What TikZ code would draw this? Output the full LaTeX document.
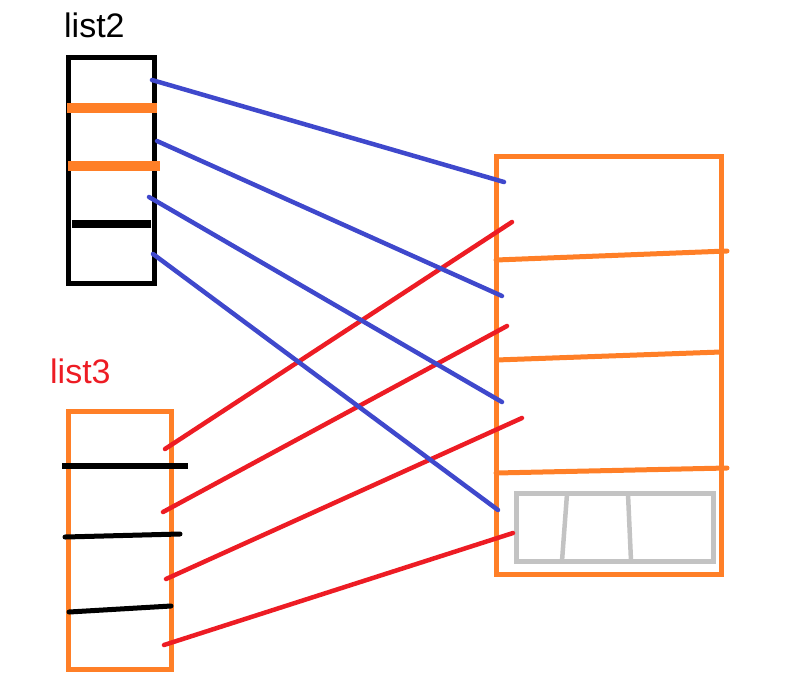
\documentclass[tikz,border=0pt]{standalone}
\usepackage{fontspec}
\setmainfont{Liberation Sans}
\usetikzlibrary{calc, positioning}
\definecolor{paintorange}{RGB}{255,127,39}
\definecolor{paintblue}{RGB}{63,72,204}
\definecolor{paintred}{RGB}{237,28,36}
\definecolor{paintgray}{RGB}{195,195,195}

\tikzset{
  boxline/.style={line width=5pt},
  bar/.style={line width=#1},
  bar/.default=6pt,
  blueline/.style={draw=paintblue, line width=4.5pt, line cap=round},
  redline/.style={draw=paintred, line width=4.5pt, line cap=round},
  listlabel/.style={anchor=base west, inner sep=0pt, font=\fontsize{34}{40}\selectfont}
}

\begin{document}
\begin{tikzpicture}[x=1pt, y=-1pt]
\useasboundingbox (0,0) rectangle (797,689);

% list2: caja negra con dos barras naranjas y una negra
\node[listlabel] (l2lab) at (64,37) {list2};
\draw[boxline, black] (68.5,57) rectangle (154.5,283);
\draw[bar=10pt, paintorange] (67,108) -- (157,108);
\draw[bar=10pt, paintorange] (68,166) -- (160,166);
\draw[bar=8pt, black] (72,224) -- (151,224);

% list3: caja naranja con tres barras negras
\node[listlabel, text=paintred] (l3lab) at (50,383) {list3};
\draw[boxline, paintorange] (68.5,411.5) rectangle (171.5,669.5);
\draw[bar=6pt, black] (62,466) -- (188,466);
\draw[bar=5pt, black, line cap=round] (65,537) -- (180,534);
\draw[bar=5pt, black, line cap=round] (69,612) -- (171,606);

% tabla de la derecha
\draw[boxline, paintorange] (496,156) rectangle (721,574);
\draw[bar=5pt, paintorange, line cap=round] (496,260) -- (727,251);
\draw[bar=5pt, paintorange] (496,360) -- (721,352);
\draw[bar=5pt, paintorange, line cap=round] (496,473) -- (727,468);

% bloque gris dentro de la ultima fila
\draw[boxline, paintgray] (516.5,493.5) rectangle (713.5,561.5);
\draw[bar=4.5pt, paintgray] (567,494) -- (562,561);
\draw[bar=4.5pt, paintgray] (628,494) -- (631,561);

% puntos de los enlaces
\coordinate (a1) at (152,80);
\coordinate (a2) at (157,141);
\coordinate (a3) at (149,197);
\coordinate (a4) at (153,254);
\coordinate (b1) at (165,449);
\coordinate (b2) at (163,512);
\coordinate (b3) at (166,579);
\coordinate (b4) at (164,645);
\coordinate (p1) at (504,182);
\coordinate (p2) at (502,296);
\coordinate (p3) at (502,402);
\coordinate (p4) at (498,510);
\coordinate (q1) at (512,222);
\coordinate (q2) at (507,326);
\coordinate (q3) at (522,418);
\coordinate (q4) at (513,533);

% enlaces de list2 (azul) y list3 (rojo)
\foreach \i in {1,...,4}{
  \draw[blueline] (a\i) -- (p\i);
  \draw[redline] (b\i) -- (q\i);
}
\end{tikzpicture}
\end{document}
